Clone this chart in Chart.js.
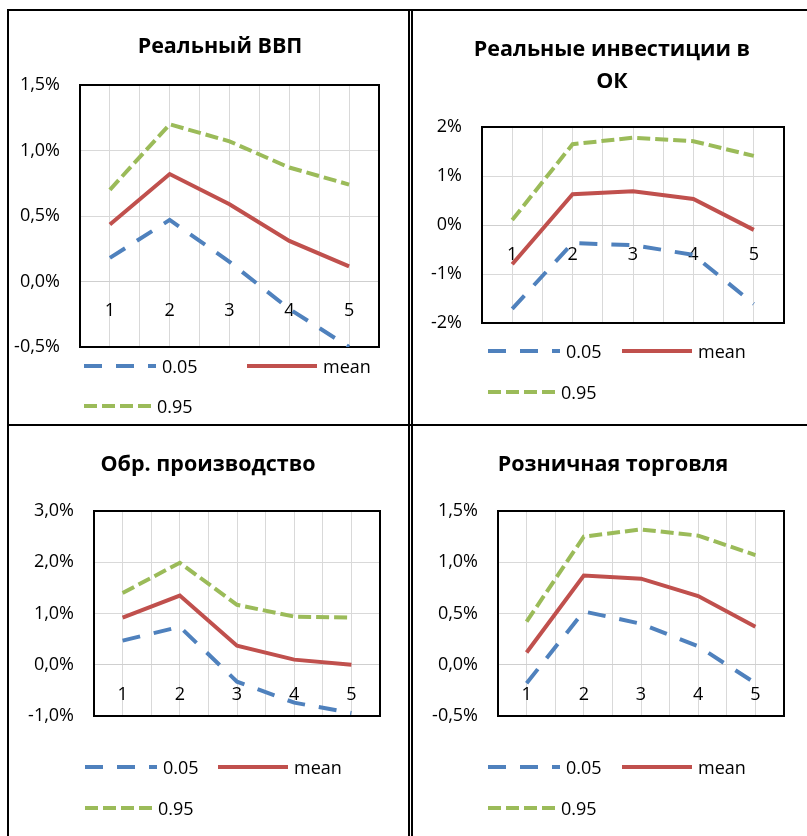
<!DOCTYPE html>
<html lang="ru">
<head>
<meta charset="utf-8">
<title>Импульсные отклики</title>
<script src="https://cdn.jsdelivr.net/npm/chart.js@4.4.0/dist/chart.umd.min.js"></script>
<style>
    html, body { margin: 0; padding: 0; background: #fff; }
    #page { position: relative; width: 807px; height: 836px; overflow: hidden; font-family: 'Open Sans', 'Noto Sans', sans-serif; color: #000; }
    .rule { position: absolute; background: #000; }
    .panel-canvas { position: absolute; }
    .title { position: absolute; width: 400px; margin-left: -200px; text-align: center; font-weight: bold; font-size: 21.5px; line-height: 32px; }
    .legend-item { position: absolute; height: 24px; display: flex; align-items: center; font-size: 18px; white-space: nowrap; }
    .legend-item svg { margin-right: 6px; }
</style>
</head>
<body>
<div id="page">
    <div class="rule" style="left:7px;top:9px;width:800px;height:2px"></div>
    <div class="rule" style="left:7px;top:424px;width:800px;height:2px"></div>
    <div class="rule" style="left:7px;top:9px;width:2px;height:827px"></div>
    <div class="rule" style="left:408px;top:9px;width:2px;height:827px"></div>
    <div class="rule" style="left:411px;top:9px;width:2px;height:827px"></div>
</div>

<script>
    // horizons
    const periods = [1, 2, 3, 4, 5];

    // Реальный ВВП, %
    const gdpLow = [0.18, 0.47, 0.15, -0.21, -0.50];
    const gdpMean = [0.435, 0.82, 0.59, 0.31, 0.115];
    const gdpHigh = [0.70, 1.20, 1.07, 0.87, 0.74];

    // Реальные инвестиции в ОК, %
    const invLow = [-1.71, -0.37, -0.41, -0.61, -1.61];
    const invMean = [-0.80, 0.63, 0.69, 0.53, -0.10];
    const invHigh = [0.10, 1.65, 1.78, 1.71, 1.41];

    // Обр. производство, %
    const prodLow = [0.47, 0.74, -0.33, -0.74, -0.94];
    const prodMean = [0.92, 1.35, 0.37, 0.10, 0.0];
    const prodHigh = [1.40, 1.99, 1.17, 0.94, 0.92];

    // Розничная торговля, %
    const retailLow = [-0.18, 0.52, 0.40, 0.18, -0.18];
    const retailMean = [0.12, 0.87, 0.84, 0.67, 0.37];
    const retailHigh = [0.42, 1.25, 1.32, 1.26, 1.07];

    const seriesNames = ['0.05', 'mean', '0.95'];

    const BLUE = '#4f81bd';
    const RED = '#c0504d';
    const GREEN = '#9bbb59';
    const GRID = '#d9d9d9';
    const FONT = { family: "'Open Sans', 'Noto Sans', sans-serif", size: 18 };

    const lineStyles = [
        { color: BLUE, dash: [18, 14], sample: 72 },
        { color: RED, dash: [], sample: 70 },
        { color: GREEN, dash: [13, 5], sample: 67 }
    ];

    const panels = [
        {
            title: ['Реальный ВВП'], series: [gdpLow, gdpMean, gdpHigh],
            yMin: -0.5, yMax: 1.5, yStep: 0.5, decimals: 1,
            box: { left: 9, top: 11, width: 399, height: 413 },
            area: { left: 80, top: 85, right: 379, bottom: 347 },
            titleAt: { x: 220, y: 45 },
            legendAt: { x: 84, col2: 247, row1: 366, row2: 406 }
        },
        {
            title: ['Реальные инвестиции в', 'ОК'], series: [invLow, invMean, invHigh],
            yMin: -2, yMax: 2, yStep: 1, decimals: 0,
            box: { left: 413, top: 11, width: 394, height: 413 },
            area: { left: 482, top: 127, right: 784, bottom: 323 },
            titleAt: { x: 612, y: 64 },
            legendAt: { x: 488, col2: 622, row1: 351, row2: 392 }
        },
        {
            title: ['Обр. производство'], series: [prodLow, prodMean, prodHigh],
            yMin: -1, yMax: 3, yStep: 1, decimals: 1,
            box: { left: 9, top: 426, width: 399, height: 410 },
            area: { left: 94, top: 511, right: 380, bottom: 716 },
            titleAt: { x: 208, y: 463 },
            legendAt: { x: 85, col2: 218, row1: 767, row2: 808 }
        },
        {
            title: ['Розничная торговля'], series: [retailLow, retailMean, retailHigh],
            yMin: -0.5, yMax: 1.5, yStep: 0.5, decimals: 1,
            box: { left: 413, top: 426, width: 394, height: 410 },
            area: { left: 498, top: 511, right: 784, bottom: 716 },
            titleAt: { x: 613, y: 463 },
            legendAt: { x: 488, col2: 622, row1: 767, row2: 808 }
        }
    ];

    // black frame round the plot area
    const plotFrame = {
        id: 'plotFrame',
        beforeDatasetsDraw(chart) {
            const { ctx, chartArea: a } = chart;
            ctx.save();
            ctx.strokeStyle = '#000';
            ctx.lineWidth = 2;
            ctx.strokeRect(a.left, a.top, a.right - a.left, a.bottom - a.top);
            ctx.restore();
        }
    };

    const page = document.getElementById('page');

    function formatPercent(value, decimals) {
        return value.toFixed(decimals).replace('.', ',') + '%';
    }

    function renderTitle(panel) {
        const el = document.createElement('div');
        el.className = 'title';
        el.style.left = panel.titleAt.x + 'px';
        el.style.top = (panel.titleAt.y - panel.title.length * 16) + 'px';
        el.innerHTML = panel.title.join('<br>');
        page.appendChild(el);
    }

    function lineSample(style) {
        const w = style.sample;
        return `<svg width="${w}" height="8"><line x1="0" y1="4" x2="${w}" y2="4" stroke="${style.color}" stroke-width="4" stroke-dasharray="${style.dash.join(' ') || 'none'}"/></svg>`;
    }

    function renderLegend(panel) {
        const spots = [
            { x: panel.legendAt.x, y: panel.legendAt.row1 },
            { x: panel.legendAt.col2, y: panel.legendAt.row1 },
            { x: panel.legendAt.x, y: panel.legendAt.row2 }
        ];
        seriesNames.forEach((name, i) => {
            const el = document.createElement('div');
            el.className = 'legend-item';
            el.style.left = spots[i].x + 'px';
            el.style.top = (spots[i].y - 12) + 'px';
            el.innerHTML = lineSample(lineStyles[i]) + `<span>${name}</span>`;
            page.appendChild(el);
        });
    }

    function renderChart(panel) {
        const { box, area } = panel;
        const canvas = document.createElement('canvas');
        canvas.className = 'panel-canvas';
        canvas.width = box.width;
        canvas.height = box.height;
        canvas.style.left = box.left + 'px';
        canvas.style.top = box.top + 'px';
        page.appendChild(canvas);

        const yAxisWidth = area.left - box.left;

        new Chart(canvas, {
            type: 'line',
            data: {
                datasets: panel.series.map((values, i) => ({
                    label: seriesNames[i],
                    data: values.map((v, k) => ({ x: periods[k], y: v })),
                    borderColor: lineStyles[i].color,
                    borderDash: lineStyles[i].dash,
                    borderWidth: 4,
                    pointRadius: 0,
                    tension: 0,
                    fill: false
                }))
            },
            options: {
                responsive: false,
                animation: false,
                layout: {
                    padding: {
                        left: 0,
                        top: area.top - box.top,
                        right: box.left + box.width - area.right,
                        bottom: box.top + box.height - area.bottom
                    }
                },
                plugins: {
                    legend: { display: false },
                    title: { display: false },
                    tooltip: { enabled: false }
                },
                scales: {
                    x: {
                        type: 'linear',
                        min: 0.5,
                        max: 5.5,
                        position: { y: 0 },
                        ticks: {
                            stepSize: 0.5,
                            autoSkip: false,
                            maxRotation: 0,
                            padding: 19,
                            color: '#000',
                            font: FONT,
                            callback: v => Number.isInteger(v) ? String(v) : ''
                        },
                        grid: { color: GRID, lineWidth: 1, drawTicks: false },
                        border: { color: '#cfcfcf', width: 1 }
                    },
                    y: {
                        min: panel.yMin,
                        max: panel.yMax,
                        ticks: {
                            stepSize: panel.yStep,
                            padding: 20,
                            color: '#000',
                            font: FONT,
                            callback: v => formatPercent(v, panel.decimals)
                        },
                        grid: { color: GRID, lineWidth: 1, drawTicks: false },
                        border: { display: false },
                        afterFit: scale => { scale.width = yAxisWidth; }
                    }
                }
            },
            plugins: [plotFrame]
        });
    }

    panels.forEach(panel => {
        renderChart(panel);
        renderTitle(panel);
        renderLegend(panel);
    });
</script>
</body>
</html>
